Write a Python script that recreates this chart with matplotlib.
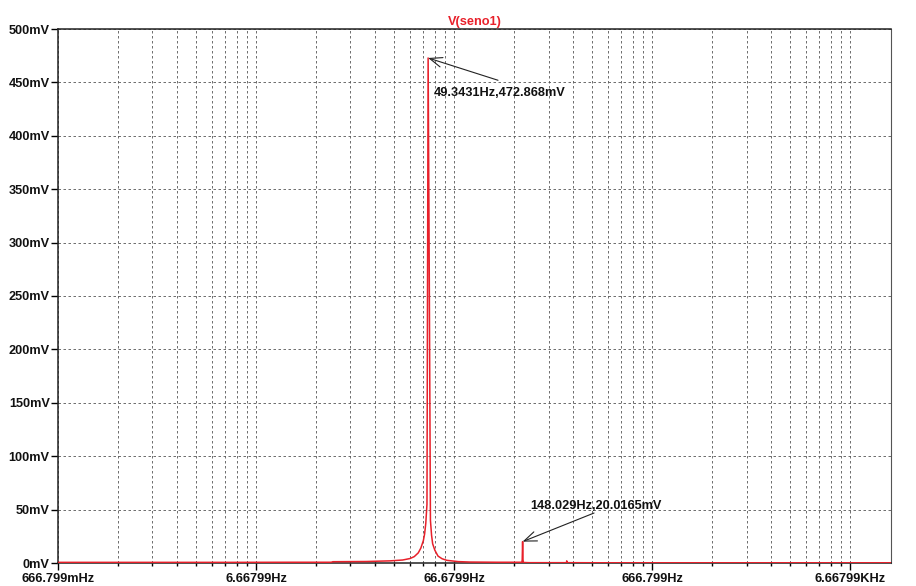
import matplotlib
matplotlib.use("Agg")
import matplotlib.pyplot as plt
from matplotlib.ticker import FixedLocator, NullFormatter, FixedFormatter

# ---- data ----
freq_hz = [0.666799, 2.0, 5.0, 10.0, 16.0, 16.3, 24.0, 31.7, 36.7, 40.0, 42.0,
           44.0, 45.34, 46.68, 47.35, 48.01, 48.68, 49.3431, 50.01, 50.68,
           51.35, 52.01, 53.34, 55.34, 58.0, 61.3, 70.0, 80.0, 110.0, 146.7,
           147.36, 148.029, 148.70, 149.4, 160.0, 246.6, 247.3, 248.0, 400.0,
           1000.0, 4000.0, 10735.0]
volt_mv = [0.6, 0.6, 0.6, 0.7, 0.7, 1.2, 1.4, 2.0, 2.8, 4.2, 6.0,
           9.5, 14.0, 21.0, 27.0, 37.0, 55.0, 472.868, 266.0, 40.0,
           26.0, 18.0, 12.0, 6.5, 4.0, 2.5, 1.3, 0.9, 0.7, 0.7,
           3.0, 20.0165, 3.0, 0.5, 0.3, 0.3, 2.0, 0.3, 0.2,
           0.2, 0.2, 0.2]

xtick_values = [0.666799, 6.66799, 66.6799, 666.799, 6667.99]
xtick_labels = ["666.799mHz", "6.66799Hz", "66.6799Hz", "666.799Hz", "6.66799KHz"]
ytick_values = [0, 50, 100, 150, 200, 250, 300, 350, 400, 450, 500]
ytick_labels = [f"{v}mV" for v in ytick_values]

marker1 = (49.3431, 472.868)
marker1_text = "49.3431Hz,472.868mV"
marker2 = (148.029, 20.0165)
marker2_text = "148.029Hz,20.0165mV"
title = "V(seno1)"

# ---- figure ----
W, H = 916, 586
fig = plt.figure(figsize=(W / 100, H / 100), dpi=100)
L, R, T, B = 58, 891, 29, 563
ax = fig.add_axes([L / W, (H - B) / H, (R - L) / W, (B - T) / H])

red = "#e8202a"
font = ["Liberation Sans", "DejaVu Sans"]
fs = 9.2

ax.plot(freq_hz, volt_mv, color=red, lw=1.1, zorder=3)
ax.set_xscale("log")
ax.set_xlim(0.666799, 10735.0)
ax.set_ylim(0, 500)

# ticks
minor = []
for base in xtick_values:
    for m in range(2, 10):
        v = base * m
        if v < 10735.0:
            minor.append(v)
ax.xaxis.set_major_locator(FixedLocator(xtick_values))
ax.xaxis.set_major_formatter(FixedFormatter(xtick_labels))
ax.xaxis.set_minor_locator(FixedLocator(minor))
ax.xaxis.set_minor_formatter(NullFormatter())
ax.set_yticks(ytick_values)
ax.set_yticklabels(ytick_labels)

for lab in ax.get_xticklabels() + ax.get_yticklabels():
    lab.set_fontfamily(font)
    lab.set_fontweight("bold")
    lab.set_fontsize(fs)
    lab.set_color("#111111")

ax.tick_params(axis="x", which="major", length=5, width=1, pad=2, direction="out")
ax.tick_params(axis="x", which="minor", length=2.2, width=1, direction="out")
ax.tick_params(axis="y", which="major", length=5, width=1, pad=1, direction="out")

# grid
gkw = dict(color="#555555", lw=0.6, linestyle=(0, (3, 3)))
ax.grid(True, which="major", axis="both", **gkw)
ax.grid(True, which="minor", axis="x", **gkw)
ax.set_axisbelow(True)

for side in ["left", "bottom", "top"]:
    ax.spines[side].set_color("#222222")
    ax.spines[side].set_linewidth(1.1)
ax.spines["right"].set_color("#555555")
ax.spines["right"].set_linewidth(0.8)

ax.set_title(title, color=red, fontfamily=font, fontweight="bold",
             fontsize=fs, pad=3)

# annotations
akw = dict(arrowstyle="->,head_length=0.9,head_width=0.35", color="#222222",
           lw=0.8, shrinkA=0, shrinkB=0)
ax.annotate("", xy=marker1, xytext=(111.2, 452), arrowprops=akw, zorder=5)
ax.text(52.9, 440, marker1_text, fontfamily=font, fontweight="bold",
        fontsize=fs, va="center", ha="left", color="#111111")
ax.annotate("", xy=marker2, xytext=(339.7, 46.8), arrowprops=akw, zorder=5)
ax.text(161.4, 53.4, marker2_text, fontfamily=font, fontweight="bold",
        fontsize=fs, va="center", ha="left", color="#111111")

fig.savefig("out.png", dpi=100)
